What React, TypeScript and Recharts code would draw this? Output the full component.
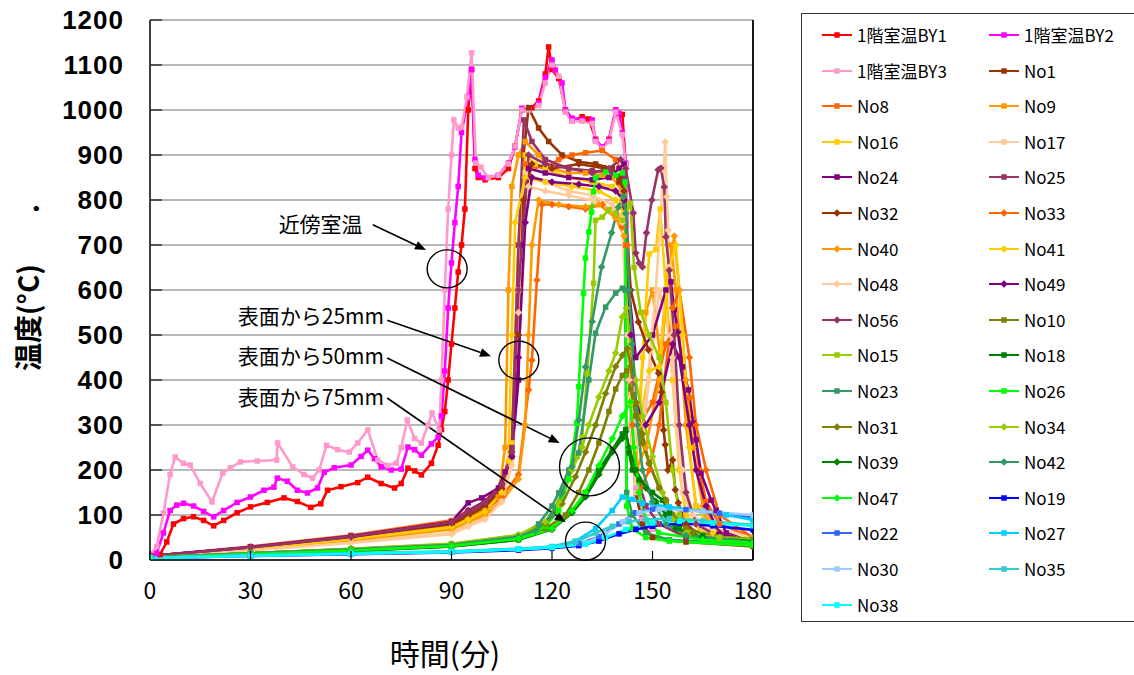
import React from 'react';
import { LineChart, Line, XAxis, YAxis, CartesianGrid, ReferenceLine, ReferenceDot } from 'recharts';

type Pt = [number, number];

const X_TICKS = [0, 30, 60, 90, 120, 150, 180];
const Y_TICKS = [0, 100, 200, 300, 400, 500, 600, 700, 800, 900, 1000, 1100, 1200];

// ---- room temperature ----
const BY1: Pt[] = [[0,10],[3,12],[5,40],[7,80],[10,92],[13,96],[16,88],[19,76],[22,88],[26,105],[30,118],[35,128],[40,138],[44,130],[48,117],[51,125],[53,155],[57,163],[62,172],[65,184],[69,170],[73,160],[75,170],[77,204],[79,198],[81,189],[84,215],[86,255],[87,290],[88,330],[89,400],[90,480],[91,560],[92,640],[93,700],[94,780],[95,1000],[96,1090],[97,870],[98,850],[100,845],[104,850],[107,870],[109,920],[111,1000],[114,1005],[116,1020],[118,1080],[119,1140],[120,1090],[122,1070],[124,1000],[126,975],[129,985],[131,980],[133,935],[135,915],[137,935],[139,1000],[141,990],[142,880],[143,600],[144,350],[145,150],[147,90],[150,70]];
const BY2: Pt[] = [[0,10],[2,15],[4,60],[6,110],[8,122],[10,126],[13,120],[16,108],[19,96],[22,110],[26,128],[30,140],[34,155],[37,162],[38,182],[41,175],[44,155],[47,149],[50,160],[52,195],[55,205],[60,211],[63,230],[65,244],[67,225],[69,207],[72,200],[75,202],[77,251],[79,245],[81,233],[84,258],[86,273],[87,320],[88,420],[89,560],[90,660],[91,750],[92,830],[93,950],[95,1030],[96,1090],[97,890],[98,855],[100,849],[104,855],[107,882],[109,918],[111,1004],[113,1000],[116,1015],[118,1073],[120,1111],[121,1089],[123,1060],[124,1000],[126,982],[129,978],[132,978],[133,933],[135,918],[137,933],[139,1000],[140,993],[141,949],[142,882],[143,600],[144,400],[145,150],[147,90],[150,70]];
const BY3: Pt[] = [[0,10],[2,30],[4,104],[6,190],[7.5,229],[10,215],[12,211],[15,170],[18.5,129],[21.7,193],[24,205],[27,218],[32,220],[37.8,222],[38.1,260],[42.6,207],[46,190],[48.5,182],[50.5,200],[52.7,255],[56,245],[59.5,240],[62,260],[65,289],[68,222],[71,210],[73.5,215],[75,250],[76.8,311],[79,270],[81,260],[83,300],[84.2,327],[86.3,289],[87,400],[88,600],[89,780],[90,900],[90.7,978],[92,960],[93,962],[94.6,1029],[96,1127],[97.3,882],[98.8,873],[101,850],[104,855],[107,880],[109,920],[111,1000],[113,1000],[116,1010],[118,1060],[120,1100],[122,1075],[124,995],[126,975],[129,975],[132,970],[133,930],[135,915],[137,930],[139,995],[141,945],[142,880],[143,600],[144,380],[145,160],[147,90],[150,70]];

// ---- 25 mm ----
const N1: Pt[] = [[0,8],[30,28],[60,50],[90,80],[95,100],[100,120],[105,160],[108,250],[110,600],[111.5,900],[113,1005],[116,960],[119,930],[123,900],[128,885],[133,880],[138,870],[140,840],[141.5,800],[142.5,600],[143.5,300],[145,150],[147,80],[150,50],[160,40],[180,30]];
const N8: Pt[] = [[0,9],[30,30],[60,55],[90,88],[95,110],[100,130],[105,170],[108,250],[110,700],[112,880],[115,875],[118,870],[122,890],[126,900],[130,905],[135,910],[139,890],[141,860],[142,700],[143,500],[144.5,350],[146,300],[150,350],[154,480],[157,520],[161,360],[164,200],[166,130],[170,80],[180,50]];
const N9: Pt[] = [[0,8],[30,26],[60,46],[90,72],[95,90],[100,105],[104,140],[106,250],[107,600],[108,830],[110,900],[112,930],[116,900],[120,870],[125,860],[130,860],[135,855],[138,850],[141,820],[142,600],[143,400],[145,200],[148,550],[150,600],[152.3,450],[154,600],[155.5,700],[157,600],[160,300],[163,120],[170,60],[180,40]];
const N16: Pt[] = [[0,8],[30,27],[60,50],[90,78],[95,95],[100,115],[105,155],[108,260],[110,700],[112,900],[115,880],[118,870],[125,850],[132,840],[138,830],[141,800],[142,600],[143.5,350],[145,200],[147,450],[149,680],[151,690],[152.3,780],[154,600],[156,400],[158,200],[160,100],[165,60],[180,40]];
const N17: Pt[] = [[0,7],[30,22],[60,40],[90,60],[95,80],[100,95],[105,135],[108,220],[110,600],[112,860],[118,840],[125,820],[132,810],[138,790],[141,760],[142.5,500],[143.5,300],[145,150],[149,400],[152,600],[155,500],[157,300],[159,150],[163,80],[180,50]];
const N24: Pt[] = [[0,9],[30,29],[60,53],[90,85],[95,127],[99,138],[104,160],[106,196],[108,230],[110,400],[111,700],[113,870],[118,860],[125,850],[132,845],[137,850],[140,870],[141.5,880],[143,600],[145,450],[150,500],[154,600],[155.5,618],[156.5,556],[157.7,504],[159,429],[160.7,378],[162.2,304],[163,267],[164.5,193],[167.5,133],[169,110],[172,60],[180,40]];
const N25: Pt[] = [[0,9],[30,28],[60,52],[90,82],[95,105],[100,125],[105,165],[108,250],[110,700],[111.6,978],[114,930],[118,890],[125,870],[132,865],[138,860],[141,850],[143,400],[145,200],[148,120],[152,80],[160,50],[180,40]];
const N32: Pt[] = [[0,8],[30,27],[60,49],[90,78],[95,98],[100,118],[105,158],[108,240],[110,500],[111.5,800],[114,880],[120,870],[128,880],[136,870],[140,850],[141.5,820],[143.5,600],[145.8,529],[148.8,467],[151.8,415],[152.7,373],[153.3,289],[153.8,256],[154.6,200],[156,222],[156.8,156],[157.7,127],[160,80],[165,50],[180,40]];
const N33: Pt[] = [[0,8],[30,26],[60,47],[90,74],[95,90],[100,110],[105,140],[110,190],[113,378],[114,444],[115.5,622],[117,790],[120,790],[125,785],[130,780],[135,790],[139,770],[141,740],[142.5,700],[144,300],[146,150],[149,200],[152,300],[156,560],[158,600],[161,450],[163,300],[166,200],[170,100],[180,50]];
const N40: Pt[] = [[0,7],[30,24],[60,44],[90,68],[95,85],[100,100],[105,130],[110,180],[112,300],[113,500],[114,700],[116,800],[122,790],[130,785],[134,790],[139,760],[141.5,720],[143,400],[145,200],[148,250],[152,400],[155,650],[156.5,720],[158,600],[160,400],[162,250],[165,120],[170,60],[180,40]];
const N41: Pt[] = [[0,8],[30,25],[60,46],[90,73],[95,90],[100,108],[105,150],[107,220],[108,500],[109,750],[112,850],[118,840],[126,830],[134,820],[139,800],[141.5,770],[143.5,350],[146,300],[149,420],[152,430],[155,650],[157,700],[159,500],[161,250],[163,120],[168,60],[180,40]];
const N48: Pt[] = [[0,7],[30,21],[60,38],[90,57],[95,75],[100,90],[105,130],[108,210],[110,550],[113,830],[118,820],[125,810],[132,800],[138,780],[141,750],[143,400],[145,250],[148,350],[151,600],[153.3,867],[153.8,929],[154.3,807],[154.7,733],[155,651],[156,450],[157.5,300],[159,200],[162,100],[170,50],[180,40]];
const N49: Pt[] = [[0,9],[30,28],[60,51],[90,83],[95,110],[100,130],[105,170],[108,230],[110,450],[112,750],[114,850],[120,840],[128,835],[134,830],[139,820],[141.5,800],[143.5,500],[145,350],[148,300],[152,350],[156,480],[158,450],[161,300],[163,200],[166,120],[170,60],[180,40]];
const N56: Pt[] = [[0,9],[30,28],[60,52],[90,84],[95,108],[100,128],[105,168],[108,240],[110,600],[113,900],[118,880],[125,870],[132,860],[137,870],[140.5,890],[142,870],[144.3,771],[145,682],[146,660],[147,651],[148.2,727],[149.8,800],[151.7,867],[152.5,871],[153.5,829],[154,718],[155,644],[156.5,500],[158,300],[160,150],[163,80],[170,50],[180,40]];

// ---- 50 mm ----
const N10: Pt[] = [[0,6],[30,15],[60,24],[90,35],[110,52],[118,70],[124,100],[128,150],[131,200],[134,260],[137,330],[139,380],[141,410],[142.3,420],[143.5,380],[145,320],[147,260],[149,215],[152,160],[154,133],[156,100],[160,70],[170,50],[180,45]];
const N15: Pt[] = [[0,6],[30,15],[60,25],[90,36],[110,55],[118,80],[122,120],[125,180],[127.5,230],[129,273],[130.5,415],[132.4,615],[133,755],[135,762],[137,778],[139,770],[141,755],[143.4,793],[144.5,650],[146.5,550],[149,500],[152,450],[154,350],[156,200],[158,100],[161,60],[170,50],[180,48]];
const N18: Pt[] = [[0,5],[30,12],[60,20],[90,30],[110,45],[120,70],[126,110],[130,150],[134,200],[138,245],[141,280],[142,290],[143,238],[144,200],[146,178],[150,150],[153,133],[155,104],[158,70],[165,55],[180,45]];
const N23: Pt[] = [[0,6],[30,15],[60,24],[90,34],[110,52],[116,80],[120,120],[122,149],[125,200],[128,238],[131,400],[133,504],[136,562],[139,593],[141,604],[141.8,600],[142.3,150],[144,100],[148,60],[155,45],[180,35]];
const N26: Pt[] = [[0,6],[30,14],[60,22],[90,32],[110,50],[118,75],[122,110],[125,180],[127.4,304],[128,385],[129.4,593],[130,671],[131,729],[131.8,773],[132.4,818],[133,849],[136,862],[139,855],[141,860],[141.8,840],[142.3,120],[144,70],[148,50],[155,42],[180,32]];
const N31: Pt[] = [[0,6],[30,15],[60,24],[90,35],[110,54],[118,80],[123,125],[127,185],[130,240],[133,300],[136,370],[139,430],[141,455],[142.5,470],[143.5,430],[145,350],[147,280],[149,215],[152,160],[154,133],[157,90],[162,60],[180,45]];
const N34: Pt[] = [[0,6],[30,15],[60,25],[90,36],[110,56],[118,85],[122,130],[126,200],[129,251],[131,300],[134,362],[137,420],[139,460],[141,540],[142.2,560],[143.5,480],[145,400],[147,320],[150,230],[153,150],[156,90],[160,60],[170,50],[180,45]];
const N39: Pt[] = [[0,5],[30,12],[60,20],[90,30],[110,45],[120,68],[126,105],[130,140],[134,190],[138,240],[141,270],[142,285],[143,250],[145,200],[148,160],[151,130],[154,100],[157,70],[165,50],[180,42]];
const N42: Pt[] = [[0,6],[30,15],[60,24],[90,34],[110,52],[115,65],[120,100],[123,150],[126,207],[128,311],[130,429],[132,530],[134.8,651],[137.8,727],[139.8,784],[141.3,807],[142,770],[143,600],[144,480],[145.5,300],[147,200],[150,130],[154,80],[160,55],[180,40]];
const N47: Pt[] = [[0,5],[30,13],[60,21],[90,31],[110,47],[120,70],[126,110],[130,150],[134,210],[138,270],[141,320],[143.4,351],[144.5,250],[146,150],[148,90],[152,60],[165,45],[180,38]];

// ---- 75 mm ----
const N19: Pt[] = [[0,4],[30,9],[60,13],[90,17],[110,22],[120,26],[128,32],[134,42],[140,58],[145,68],[150,75],[158,82],[168,76],[180,67]];
const N22: Pt[] = [[0,5],[30,10],[60,14],[90,18],[110,24],[120,28],[128,36],[134,52],[140,80],[145,105],[150,113],[160,112],[170,104],[180,95]];
const N27: Pt[] = [[0,5],[30,10],[60,15],[90,19],[110,25],[120,30],[127,42],[133,70],[138,110],[141,140],[144,135],[147,126],[155,118],[165,108],[172,100],[180,89]];
const N30: Pt[] = [[0,5],[30,10],[60,14],[90,18],[110,24],[120,28],[130,38],[136,58],[141,85],[146,105],[152,113],[165,108],[180,100]];
const N35: Pt[] = [[0,5],[30,10],[60,15],[90,19],[110,25],[120,29],[127,40],[133,60],[138,75],[143,85],[148,90],[155,92],[165,87],[180,78]];
const N38: Pt[] = [[0,4],[30,9],[60,14],[90,18],[110,24],[120,28],[130,35],[136,50],[142,68],[150,82],[158,86],[168,82],[180,76]];

const SERIES_NAMES = ['1階室温BY1','1階室温BY2','1階室温BY3','No1','No8','No9','No16','No17','No24','No25','No32','No33','No40','No41','No48','No49','No56','No10','No15','No18','No23','No26','No31','No34','No39','No42','No47','No19','No22','No27','No30','No35','No38'];
const SERIES_COLORS = ['#FF0000','#FF00FF','#FF99CC','#993300','#FF6600','#FF9900','#FFCC00','#FFCC99','#800080','#993366','#993300','#FF6600','#FF9900','#FFCC00','#FFCC99','#800080','#993366','#808000','#99CC00','#008000','#339966','#00FF00','#808000','#99CC00','#008000','#339966','#00FF00','#0000FF','#3366FF','#00CCFF','#99CCFF','#33CCCC','#00FFFF'];
const SERIES_SHAPES = ['sq','sq','sq','sq','sq','sq','sq','sq','sq','sq','dm','dm','dm','dm','dm','dm','dm','sq','sq','sq','sq','sq','dm','dm','dm','dm','dm','sq','sq','sq','sq','sq','sq'];
const SERIES_POINTS: Pt[][] = [BY1,BY2,BY3,N1,N8,N9,N16,N17,N24,N25,N32,N33,N40,N41,N48,N49,N56,N10,N15,N18,N23,N26,N31,N34,N39,N42,N47,N19,N22,N27,N30,N35,N38];

const JP = '"Noto Sans CJK JP", "Noto Sans", sans-serif';

const marker = (shape: string, cx: number, cy: number, color: string, key?: any) =>
  shape === 'sq'
    ? <rect key={key} x={cx - 2.75} y={cy - 2.75} width={5.5} height={5.5} fill={color} />
    : <path key={key} d={`M${cx},${cy - 3.8}L${cx + 3.8},${cy}L${cx},${cy + 3.8}L${cx - 3.8},${cy}Z`} fill={color} />;

const makeDot = (color: string, shape: string) => (p: any) => {
  const { cx, cy, index } = p;
  if (cx == null || cy == null) return <g key={`d${index}`} />;
  return marker(shape, cx, cy, color, `d${index}`);
};

const XTick = (p: any) => {
  const { x, y, payload } = p;
  return (
    <g>
      <line x1={x} y1={y} x2={x} y2={y - 9} stroke="#000" strokeWidth={1.2} />
      <text x={x} y={y + 39} textAnchor="middle" fontFamily={JP} fontSize={23} fill="#000">{payload.value}</text>
    </g>
  );
};

const YTick = (p: any) => {
  const { x, y, payload } = p;
  return (
    <g>
      <line x1={x} y1={y} x2={x + 12} y2={y} stroke="#333" strokeWidth={1.5} />
      <text x={x - 26} y={y + 9} textAnchor="end" letterSpacing={1} fontFamily='"Liberation Sans", Arial, sans-serif' fontWeight="bold" fontSize={26} fill="#000">{payload.value}</text>
    </g>
  );
};

const YTitle = (p: any) => {
  const vb = p.viewBox || { x: 0, y: 20 };
  const tx = vb.x + 39;
  const ty = vb.y + 351;
  return (
    <g>
      <text x={tx} y={ty} transform={`rotate(-90, ${tx}, ${ty})`} fontFamily={JP} fontWeight="bold" fontSize={28} fill="#000">温度(°C)</text>
      <text x={tx} y={vb.y + 193} transform={`rotate(-90, ${tx}, ${vb.y + 193})`} fontFamily={JP} fontWeight="bold" fontSize={28} fill="#000">.</text>
    </g>
  );
};

const XTitle = (p: any) => {
  const vb = p.viewBox || { x: 150, y: 560 };
  return (
    <text x={vb.x + 295} y={vb.y + 105} textAnchor="middle" fontFamily={JP} fontSize={30} fill="#000">時間(分)</text>
  );
};

const arrowShape = (p: any) => {
  const { x1, y1, x2, y2 } = p;
  const a = Math.atan2(y2 - y1, x2 - x1);
  const L = 11, W = 4.5;
  const bx = x2 - L * Math.cos(a), by = y2 - L * Math.sin(a);
  const ax = bx + W * Math.sin(a), ay = by - W * Math.cos(a);
  const cx2 = bx - W * Math.sin(a), cy2 = by + W * Math.cos(a);
  return (
    <g>
      <line x1={x1} y1={y1} x2={bx} y2={by} stroke="#000" strokeWidth={1.6} />
      <path d={`M${x2},${y2}L${ax},${ay}L${cx2},${cy2}Z`} fill="#000" />
    </g>
  );
};

const ellipseShape = (rx: number, ry: number) => (p: any) => (
  <ellipse cx={p.cx} cy={p.cy} rx={rx} ry={ry} fill="none" stroke="#000" strokeWidth={1.4} />
);

const textShape = (label: string) => (p: any) => (
  <text x={p.cx} y={p.cy} dy={7} textAnchor="start" fontFamily={JP} fontSize={21} fill="#000">{label}</text>
);

// annotation anchors in data units [time, temperature]
const ANNO_TEXTS: [string, number, number][] = [
  ['近傍室温', 38.4, 745],
  ['表面から25mm', 26.2, 540],
  ['表面から50mm', 26.2, 451],
  ['表面から75mm', 26.2, 360],
];
const ANNO_ARROWS: [number, number, number, number][] = [
  [66.5, 745, 82.4, 689],
  [70.8, 533, 101.8, 453],
  [70.8, 449, 122.3, 260],
  [70.8, 360, 124.1, 84],
];
const ANNO_ELLIPSES: [number, number, number, number][] = [
  [88.7, 647, 20, 19],
  [110.1, 444, 20, 19],
  [131.2, 207, 30, 29],
  [130.0, 42, 20, 19],
];

const Legendbox = () => (
  <div style={{ position: 'absolute', left: 801, top: 13, width: 345, height: 609, border: '1.5px solid #333', boxSizing: 'border-box', background: '#fff' }}>
    {SERIES_NAMES.map((n, i) => {
      const row = Math.floor(i / 2);
      const col = i % 2;
      return (
        <div key={n} style={{ position: 'absolute', left: col === 0 ? 20 : 187, top: 21 + row * 35.6 - 11, height: 22, display: 'flex', alignItems: 'center', whiteSpace: 'nowrap' }}>
          <svg width={30} height={10} style={{ display: 'block' }}>
            <line x1={0} y1={5} x2={30} y2={5} stroke={SERIES_COLORS[i]} strokeWidth={2} />
            {marker(SERIES_SHAPES[i], 15, 5, SERIES_COLORS[i])}
          </svg>
          <span style={{ marginLeft: 5, fontFamily: JP, fontSize: 17, color: '#000', lineHeight: '22px' }}>{n}</span>
        </div>
      );
    })}
  </div>
);

export default function App() {
  return (
    <div style={{ position: 'absolute', left: 0, top: 0, width: 1134, height: 675, background: '#fff', overflow: 'hidden' }}>
      <LineChart width={1134} height={675} margin={{ top: 20, right: 381, bottom: 0, left: 0 }}>
        <CartesianGrid vertical={false} stroke="#A0A0A0" strokeWidth={1.5} />
        <XAxis type="number" dataKey="t" domain={[0, 180]} ticks={X_TICKS} height={115} tickSize={0} tickMargin={0} tickLine={false}
          axisLine={{ stroke: '#000', strokeWidth: 1.5 }} tick={<XTick />} allowDataOverflow label={{ content: XTitle } as any} />
        <YAxis type="number" dataKey="v" domain={[0, 1200]} ticks={Y_TICKS} width={150} tickSize={0} tickMargin={0} tickLine={false}
          axisLine={{ stroke: '#000', strokeWidth: 1.5 }} tick={<YTick />} allowDataOverflow label={{ content: YTitle } as any} />
        <ReferenceLine x={180} stroke="#000" strokeWidth={1.8} />
        {SERIES_POINTS.map((pts, i) => (
          <Line key={SERIES_NAMES[i]} name={SERIES_NAMES[i]} type="linear" dataKey="v"
            data={pts.map(([t, v]) => ({ t, v }))}
            stroke={SERIES_COLORS[i]} strokeWidth={2.6} dot={makeDot(SERIES_COLORS[i], SERIES_SHAPES[i])}
            activeDot={false} isAnimationActive={false} />
        ))}
        {ANNO_ARROWS.map((a, i) => (
          <ReferenceLine key={`ar${i}`} segment={[{ x: a[0], y: a[1] }, { x: a[2], y: a[3] }]} shape={arrowShape} ifOverflow="visible" />
        ))}
        {ANNO_ELLIPSES.map((e, i) => (
          <ReferenceDot key={`el${i}`} x={e[0]} y={e[1]} r={1} shape={ellipseShape(e[2], e[3])} ifOverflow="visible" />
        ))}
        {ANNO_TEXTS.map((t, i) => (
          <ReferenceDot key={`tx${i}`} x={t[1]} y={t[2]} r={1} shape={textShape(t[0])} ifOverflow="visible" />
        ))}
      </LineChart>
      <Legendbox />
    </div>
  );
}
